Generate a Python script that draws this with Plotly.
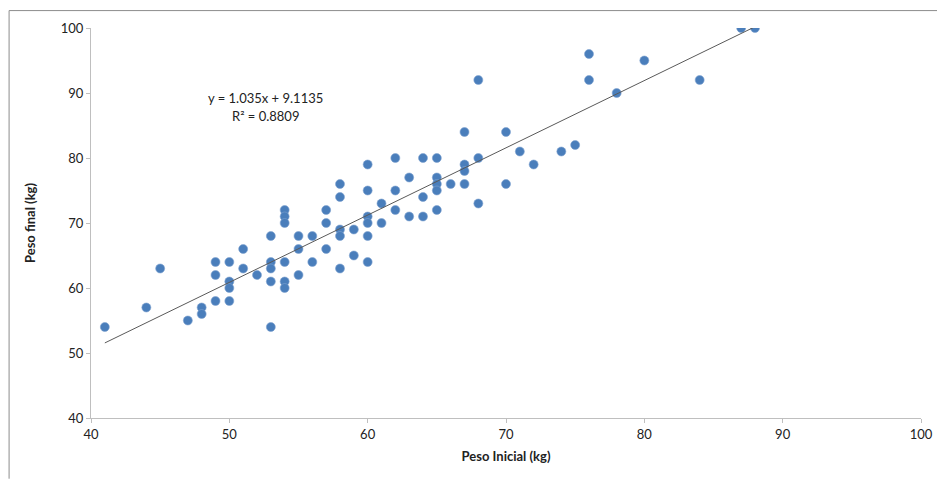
import plotly.graph_objects as go

# Data
peso_inicial = [41, 44, 45, 47, 48, 48, 49, 49, 49, 50, 50, 50, 50, 51, 51, 52,
                53, 53, 53, 53, 53, 54, 54, 54, 54, 54, 54, 55, 55, 55, 56, 56,
                57, 57, 57, 58, 58, 58, 58, 58, 59, 59, 60, 60, 60, 60, 60, 60,
                61, 61, 62, 62, 62, 63, 63, 64, 64, 64, 65, 65, 65, 65, 65, 66,
                67, 67, 67, 67, 68, 68, 68, 70, 70, 71, 72, 74, 75, 76, 76, 78,
                80, 84, 87, 88]
peso_final = [54, 57, 63, 55, 57, 56, 64, 62, 58, 64, 61, 60, 58, 66, 63, 62,
              68, 64, 63, 61, 54, 72, 71, 70, 64, 61, 60, 68, 66, 62, 68, 64,
              72, 70, 66, 76, 74, 69, 68, 63, 69, 65, 79, 75, 71, 70, 68, 64,
              73, 70, 80, 75, 72, 77, 71, 80, 74, 71, 80, 77, 76, 75, 72, 76,
              84, 79, 78, 76, 92, 80, 73, 84, 76, 81, 79, 81, 82, 96, 92, 90,
              95, 92, 100, 100]

slope = 1.035
intercept = 9.1135
r2 = 0.8809
trend_x = [min(peso_inicial), max(peso_inicial)]
trend_y = [slope * v + intercept for v in trend_x]

x_ticks = [40, 50, 60, 70, 80, 90, 100]
y_ticks = [40, 50, 60, 70, 80, 90, 100]

FONT = "Lato, Roboto, sans-serif"

L, R, T, B = 83, 18, 18, 61
W, H = 937, 471
PW, PH = W - L - R, H - T - B

fig = go.Figure()
fig.add_trace(go.Scatter(
    x=peso_inicial, y=peso_final, mode="markers",
    marker=dict(size=9, color="#4A7EBB", line=dict(width=0.6, color="#7FA3D0")),
    showlegend=False, hoverinfo="x+y"))
fig.add_trace(go.Scatter(
    x=trend_x, y=trend_y, mode="lines",
    line=dict(color="#595959", width=1), showlegend=False))

fig.add_annotation(x=52.6, y=89.3, xref="x", yref="y",
                   text=f"y = {slope}x + {intercept}", showarrow=False,
                   font=dict(family=FONT, size=13, color="#222"))
fig.add_annotation(x=52.6, y=86.5, xref="x", yref="y",
                   text=f"R² = {r2}", showarrow=False,
                   font=dict(family=FONT, size=13, color="#222"))

# chart-area border lines (top and left edges visible in reference)
top = 1 + (T - 0.5) / PH
left = -(L - 0.5) / PW
fig.add_shape(type="line", xref="paper", yref="paper",
              x0=left, x1=1 + R / PW, y0=top, y1=top,
              line=dict(color="#8C8C8C", width=1))
fig.add_shape(type="line", xref="paper", yref="paper",
              x0=left, x1=left, y0=-B / PH, y1=top,
              line=dict(color="#8C8C8C", width=1))

fig.update_xaxes(range=[40, 100], tickvals=x_ticks, ticktext=[str(v) for v in x_ticks],
                 showgrid=False, zeroline=False, showline=True, linecolor="#BFBFBF",
                 linewidth=1, ticks="outside", ticklen=4, tickcolor="#BFBFBF",
                 tickfont=dict(family=FONT, size=13, color="#222"),
                 title=dict(text="<b>Peso Inicial (kg)</b>", standoff=11,
                            font=dict(family=FONT, size=13, color="#222")))
fig.update_yaxes(range=[40, 100], tickvals=y_ticks, ticktext=[str(v) for v in y_ticks],
                 showgrid=False, zeroline=False, showline=True, linecolor="#BFBFBF",
                 linewidth=1, ticks="outside", ticklen=4, tickcolor="#BFBFBF",
                 tickfont=dict(family=FONT, size=13, color="#222"),
                 title=dict(text="<b>Peso final (kg)</b>", standoff=22,
                            font=dict(family=FONT, size=13, color="#222")))

fig.update_layout(width=W, height=H,
                  margin=dict(l=L, r=R, t=T, b=B),
                  paper_bgcolor="white", plot_bgcolor="white")

fig.write_html("out.html")
